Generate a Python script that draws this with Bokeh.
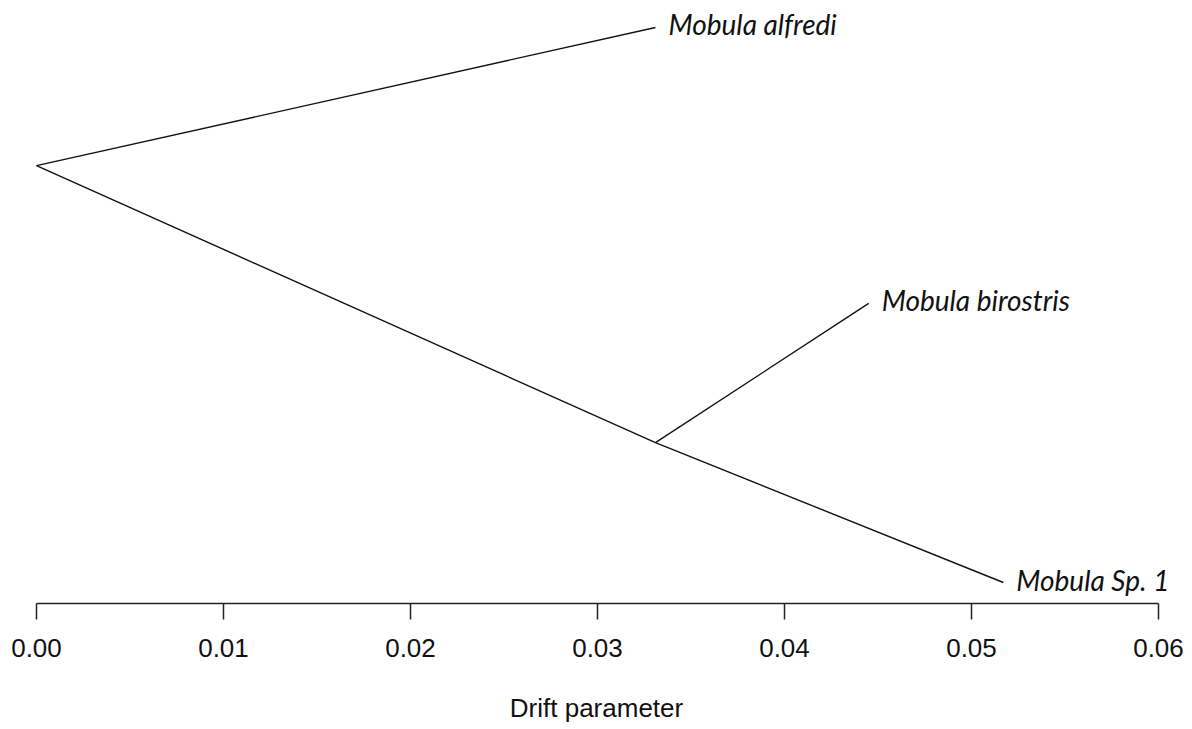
from bokeh.plotting import figure
from bokeh.models import Range1d, FixedTicker, PrintfTickFormatter, ColumnDataSource
from bokeh.core.properties import value
from bokeh.embed import file_html
from bokeh.resources import INLINE

# Tree data (drift parameter on x, vertical layout position on y)
node_names = ["root", "node1", "Mobula alfredi", "Mobula birostris", "Mobula Sp. 1"]
node_x = [0.0, 0.0331, 0.0331, 0.0445, 0.0517]
node_y = [0.751, 0.252, 1.0, 0.503, 0.0]
edges_from = ["root", "root", "node1", "node1"]
edges_to = ["Mobula alfredi", "node1", "Mobula birostris", "Mobula Sp. 1"]
tip_labels = ["Mobula alfredi", "Mobula birostris", "Mobula Sp. 1"]
x_ticks = [0.0, 0.01, 0.02, 0.03, 0.04, 0.05, 0.06]
x_label = "Drift parameter"

pos = {n: (x, y) for n, x, y in zip(node_names, node_x, node_y)}

W, H = 1192, 729
px_per_unit = 18700.0
x0 = -36.0 / px_per_unit
x1 = (W - 36.0) / px_per_unit

p = figure(width=W, height=H, output_backend="svg", toolbar_location=None,
           x_range=Range1d(x0, x1), y_range=Range1d(-0.0378, 1.0486),
           y_axis_location=None, min_border_left=0, min_border_right=0,
           min_border_top=0, min_border_bottom=126)
p.outline_line_color = None
p.grid.visible = False
p.background_fill_color = "white"
p.border_fill_color = "white"

xs = [[pos[a][0], pos[b][0]] for a, b in zip(edges_from, edges_to)]
ys = [[pos[a][1], pos[b][1]] for a, b in zip(edges_from, edges_to)]
p.multi_line(xs, ys, line_color="#111111", line_width=1.4)

src = ColumnDataSource(dict(x=[pos[t][0] for t in tip_labels],
                            y=[pos[t][1] for t in tip_labels],
                            t=tip_labels))
p.text(x="x", y="y", text="t", source=src, x_offset=13, y_offset=-3,
       text_font=value("Lato"), text_font_style="italic",
       text_font_size="28px", text_baseline="middle", text_align="left",
       text_color="#111111")

ax = p.xaxis[0]
ax.bounds = (0, 0.06)
ax.ticker = FixedTicker(ticks=x_ticks)
ax.formatter = PrintfTickFormatter(format="%.2f")
ax.minor_tick_line_color = None
ax.major_tick_out = 16
ax.major_tick_in = 0
ax.axis_line_color = "#222222"
ax.axis_line_width = 1.5
ax.major_tick_line_color = "#222222"
ax.major_tick_line_width = 1.5
ax.major_label_text_font = "Liberation Sans"
ax.major_label_text_font_size = "26px"
ax.major_label_text_color = "#111111"
ax.major_label_standoff = 19
ax.axis_label = x_label
ax.axis_label_text_font = "Liberation Sans"
ax.axis_label_text_font_size = "26px"
ax.axis_label_text_font_style = "normal"
ax.axis_label_text_color = "#111111"
ax.axis_label_standoff = 33

open("out.html", "w").write(file_html(p, INLINE))
